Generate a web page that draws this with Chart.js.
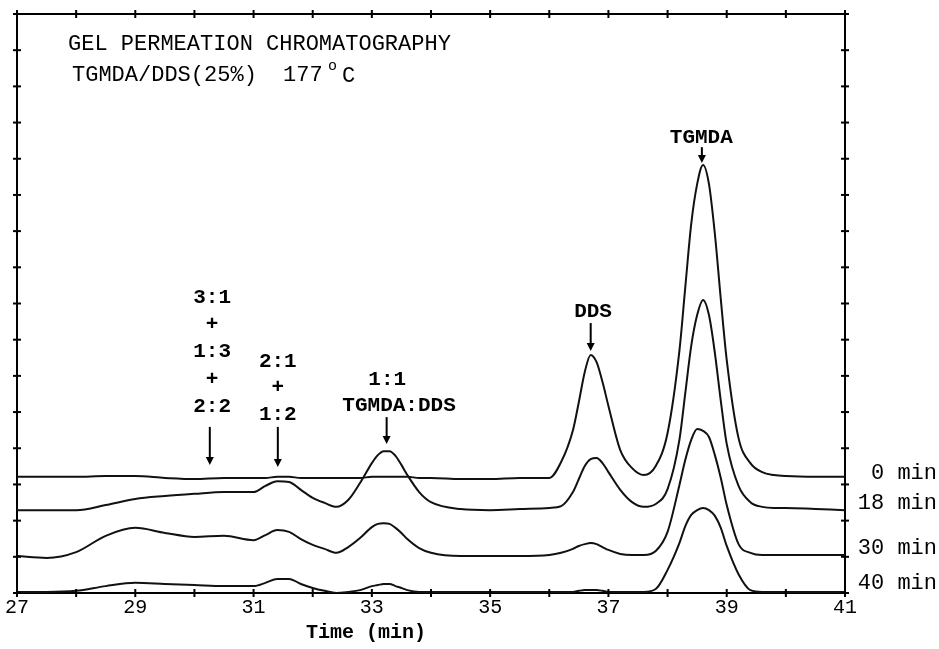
<!DOCTYPE html>
<html><head><meta charset="utf-8">
<script src="https://cdn.jsdelivr.net/npm/chart.js@4.4.1/dist/chart.umd.min.js"></script>
<style>html,body{margin:0;padding:0;background:#fff;}#wrap{width:939px;height:649px;}</style>
</head><body><div id="wrap"><canvas id="c" width="939" height="649"></canvas></div>
<script>
// Retention time (min)
const times = [27.0,27.5,28.0,28.5,29.0,29.5,30.0,30.5,31.0,31.2,31.4,31.6,31.8,32.0,32.2,32.4,32.6,32.8,
  33.0,33.1,33.2,33.3,33.4,33.5,33.6,33.8,34.0,34.5,35.0,35.5,36.0,36.2,36.4,36.5,36.6,36.7,36.8,36.9,37.0,
  37.2,37.4,37.6,37.8,38.0,38.2,38.3,38.4,38.5,38.6,38.7,38.8,38.9,39.0,39.2,39.4,39.6,39.8,40.0,40.5,41.0];
// Detector response (arbitrary units, traces offset) for each cure time
const cure0 = [32.1,32.1,32.1,32.3,32.3,31.8,31.5,31.8,31.8,31.8,32.1,32.1,31.8,31.8,31.8,31.8,31.8,31.8,
  32.1,32.1,32.1,32.1,32.1,32.1,32.1,31.8,31.8,31.5,31.5,31.8,31.8,36.2,45.0,52.8,61.1,65.8,63.8,58.3,51.7,
  39.5,34.5,32.6,35.1,44.2,66.9,84.6,102.0,113.0,118.3,113.0,99.2,81.2,64.4,42.8,35.9,33.4,32.6,32.3,32.1,32.1];
const cure18 = [22.9,22.9,22.9,24.3,26.0,26.8,27.4,27.9,27.9,29.6,30.9,30.7,28.5,26.3,24.9,23.8,25.7,30.4,
  35.9,38.1,39.2,39.2,37.9,35.4,32.6,27.9,25.1,23.2,22.9,23.2,23.5,24.0,27.9,31.5,35.1,37.0,37.3,35.9,33.4,
  28.5,25.1,23.8,24.6,28.7,42.3,55.3,68.3,76.8,81.0,76.8,66.3,53.1,41.2,29.6,25.1,23.8,23.5,23.5,23.2,22.9];
const cure30 = [10.2,9.7,11.3,15.8,18.0,16.6,15.5,15.8,14.6,16.0,17.4,16.9,14.9,13.3,12.2,11.1,12.7,15.2,
  18.2,19.1,19.3,19.1,18.0,16.6,14.9,12.4,11.1,10.2,10.2,10.2,10.5,11.1,12.2,13.0,13.5,13.8,13.5,12.7,11.9,
  10.8,10.5,10.5,11.6,16.9,29.8,36.8,42.3,45.3,44.8,43.1,38.1,31.8,24.3,13.5,11.1,10.5,10.5,10.5,10.5,10.5];
const cure40 = [0.3,0.3,0.6,1.9,2.8,2.5,2.2,1.9,1.9,2.8,3.9,3.9,2.5,1.4,0.6,0.0,0.3,0.8,
  1.9,2.2,2.5,2.5,1.9,1.4,0.8,0.3,0.3,0.3,0.3,0.3,0.3,0.3,0.3,0.6,0.8,0.8,0.8,0.6,0.3,
  0.3,0.3,0.3,1.1,6.4,13.8,18.5,21.6,22.9,23.5,22.9,21.3,18.0,13.0,5.2,0.8,0.3,0.3,0.3,0.3,0.3];
const seriesNames = ['0 min','18 min','30 min','40 min'];
const seriesLabelLevels = [33.2, 24.9, 12.4, 2.8];
const xTickLabels = [27,29,31,33,35,37,39,41];

// Peak annotations (positions in data units: time, response)
const peakTexts = [
  {text:'TGMDA', t:38.57, v:125.7},
  {text:'DDS', t:36.74, v:77.6},
  {text:'1:1', t:33.26, v:58.9},
  {text:'TGMDA:DDS', t:33.46, v:51.7},
  {text:'3:1', t:30.30, v:81.5},
  {text:'+', t:30.30, v:74.1},
  {text:'1:3', t:30.30, v:66.6},
  {text:'+', t:30.30, v:58.9},
  {text:'2:2', t:30.30, v:51.4},
  {text:'2:1', t:31.41, v:63.8},
  {text:'+', t:31.41, v:56.6},
  {text:'1:2', t:31.41, v:49.2}
];
const peakArrows = [
  {t:38.58, tip:118.8, top:123.2},
  {t:36.70, tip:66.9, top:74.6},
  {t:33.25, tip:41.2, top:48.6},
  {t:30.26, tip:35.4, top:45.9},
  {t:31.41, tip:34.8, top:45.9}
];

const MONO = '"Liberation Mono","DejaVu Sans Mono",monospace';
const pts = vals => times.map((t,i)=>({x:t, y:vals[i]}));
const mk = (label, vals) => ({label, data:pts(vals), borderColor:'#111', borderWidth:2,
  pointRadius:0, fill:false, cubicInterpolationMode:'monotone'});

const crossTicks = {
  id:'crossTicks',
  afterDraw(chart){
    const {ctx, chartArea:a, scales:{x, y}} = chart;
    ctx.save(); ctx.strokeStyle='#000'; ctx.lineWidth=2;
    const L=(x1,y1,x2,y2)=>{ctx.beginPath();ctx.moveTo(x1,y1);ctx.lineTo(x2,y2);ctx.stroke();};
    x.ticks.forEach(tk=>{const p=x.getPixelForValue(tk.value); L(p,a.top-4,p,a.top+4); L(p,a.bottom-4,p,a.bottom+4);});
    y.ticks.forEach(tk=>{const p=y.getPixelForValue(tk.value); L(a.left-4,p,a.left+4,p); L(a.right-4,p,a.right+4,p);});
    ctx.restore();
  }
};

const textLayer = {
  id:'textLayer',
  afterDraw(chart){
    const {ctx, chartArea:a, scales:{x, y}} = chart;
    ctx.save(); ctx.fillStyle='#000'; ctx.strokeStyle='#000';
    // heading
    ctx.font = '22px '+MONO; ctx.textBaseline='middle'; ctx.textAlign='left';
    ctx.fillText('GEL PERMEATION CHROMATOGRAPHY', a.left+51, a.top+30);
    ctx.fillText('TGMDA/DDS(25%)', a.left+55, a.top+61);
    ctx.fillText('177', a.left+266, a.top+61);
    ctx.font = '15px '+MONO; ctx.fillText('o', a.left+311, a.top+52);
    ctx.font = '22px '+MONO; ctx.fillText('C', a.left+325, a.top+62);
    // peak labels
    ctx.font = 'bold 21px '+MONO; ctx.textAlign='center';
    peakTexts.forEach(p=>ctx.fillText(p.text, x.getPixelForValue(p.t), y.getPixelForValue(p.v)));
    // arrows
    ctx.lineWidth=2;
    peakArrows.forEach(p=>{
      const px=x.getPixelForValue(p.t), tip=y.getPixelForValue(p.tip), top=y.getPixelForValue(p.top);
      ctx.beginPath(); ctx.moveTo(px,top); ctx.lineTo(px,tip-6); ctx.stroke();
      ctx.beginPath(); ctx.moveTo(px-4,tip-8); ctx.lineTo(px+4,tip-8); ctx.lineTo(px,tip); ctx.closePath(); ctx.fill();
    });
    // series labels on right
    ctx.font='22px '+MONO; ctx.textAlign='right';
    seriesNames.forEach((n,i)=>ctx.fillText(n, chart.width-2, y.getPixelForValue(seriesLabelLevels[i])));
    // axis title
    ctx.font='bold 20px '+MONO; ctx.textAlign='center';
    ctx.fillText('Time (min)', x.getPixelForValue(32.9), a.bottom+40);
    ctx.restore();
  }
};

new Chart(document.getElementById('c'), {
  type:'line',
  data:{datasets:[mk(seriesNames[0],cure0), mk(seriesNames[1],cure18), mk(seriesNames[2],cure30), mk(seriesNames[3],cure40)]},
  options:{
    responsive:false, devicePixelRatio:1, animation:false,
    layout:{padding:0},
    plugins:{legend:{display:false}, tooltip:{enabled:false}, title:{display:false}},
    scales:{
      x:{type:'linear', position:'bottom', min:27, max:41,
        ticks:{stepSize:1, autoSkip:false, maxRotation:0, color:'#000', padding:-5,
          font:{family:MONO, size:20},
          callback:v=> xTickLabels.includes(v) ? String(v) : ''},
        grid:{display:false}, border:{display:true, color:'#000', width:2},
        afterFit:s=>{s.height=56;}},
      x2:{type:'linear', position:'top', min:27, max:41, ticks:{display:false},
        grid:{display:false}, border:{display:true, color:'#000', width:2},
        afterFit:s=>{s.height=14;}},
      y:{type:'linear', position:'left', min:0, max:160, ticks:{display:false, stepSize:10},
        grid:{display:false}, border:{display:true, color:'#000', width:2},
        afterFit:s=>{s.width=17;}},
      y2:{type:'linear', position:'right', min:0, max:160, ticks:{display:false},
        grid:{display:false}, border:{display:true, color:'#000', width:2},
        afterFit:s=>{s.width=94;}}
    }
  },
  plugins:[crossTicks, textLayer]
});
</script></body></html>
